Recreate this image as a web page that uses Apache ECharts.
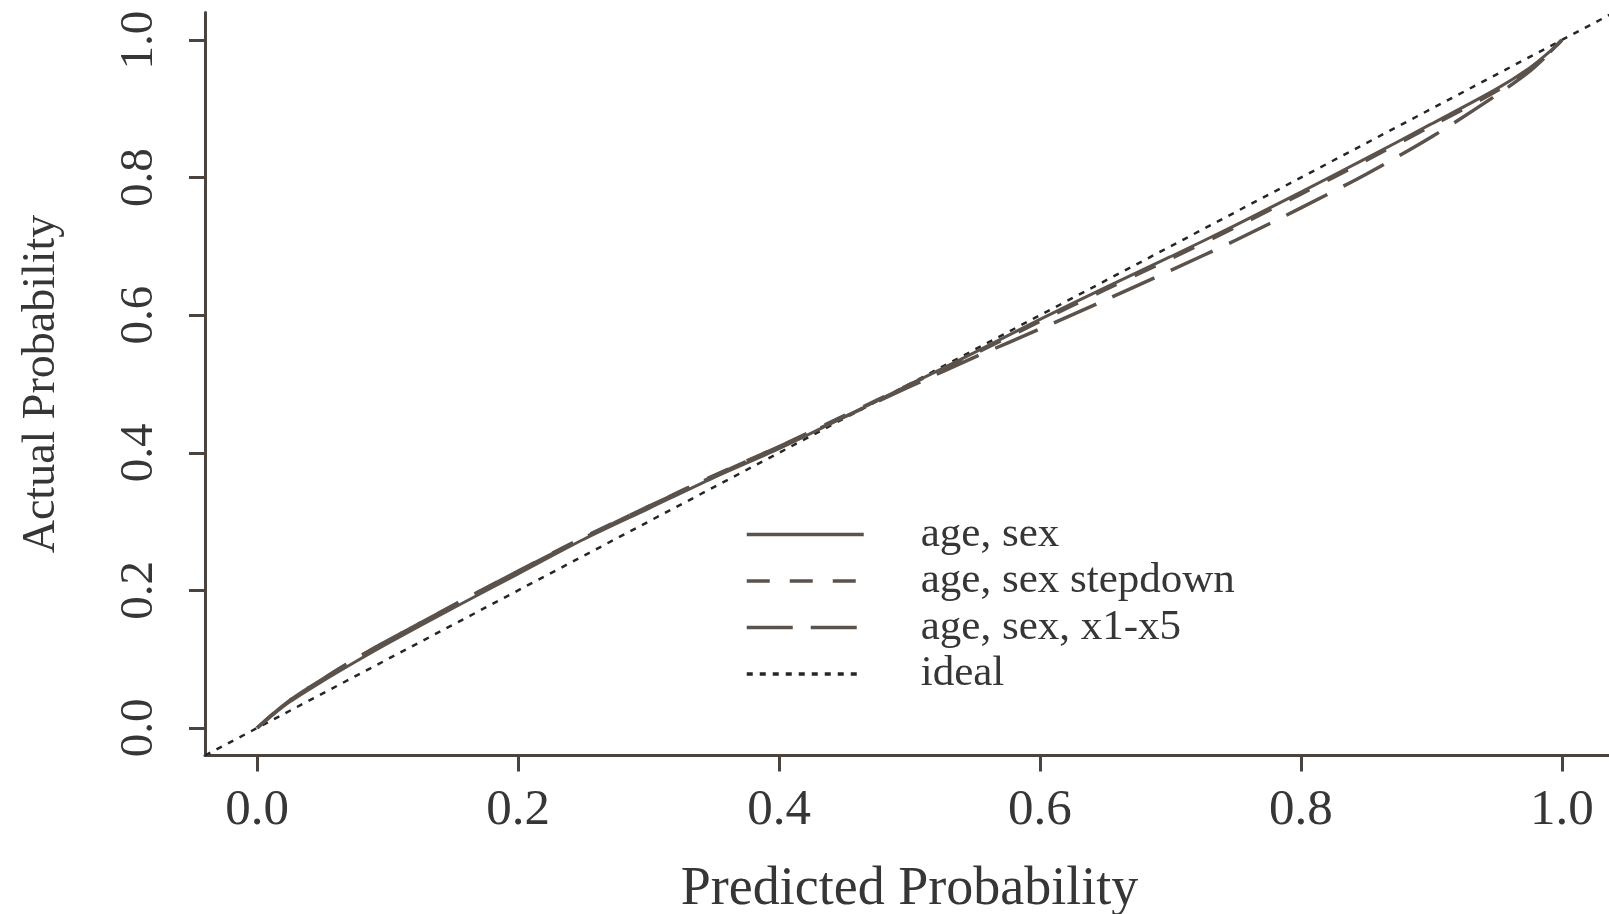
<!DOCTYPE html>
<html>
<head>
<meta charset="utf-8">
<script src="https://cdn.jsdelivr.net/npm/echarts@6/dist/echarts.min.js"></script>
<style>
html,body{margin:0;padding:0;background:#ffffff;}
#chart{width:1609px;height:914px;}
</style>
</head>
<body>
<div id="chart"></div>
<script>
// Predicted probability grid (x) shared by the three calibration curves
var predicted = [0, 0.01, 0.025, 0.05, 0.075, 0.1, 0.15, 0.2, 0.25, 0.3, 0.35, 0.4, 0.45, 0.5, 0.55, 0.6, 0.65, 0.7, 0.75, 0.8, 0.85, 0.9, 0.95, 0.975, 0.99, 1.0];
// Actual probability, "age, sex"
var ageSex = [0, 0.016, 0.038, 0.068, 0.096, 0.123, 0.174, 0.224, 0.274, 0.319, 0.364, 0.406, 0.452, 0.499, 0.546, 0.594, 0.640, 0.685, 0.731, 0.779, 0.828, 0.878, 0.929, 0.959, 0.982, 1.0];
// Actual probability, "age, sex stepdown"
var ageSexStepdown = [0, 0.017, 0.040, 0.071, 0.100, 0.127, 0.178, 0.228, 0.277, 0.322, 0.367, 0.409, 0.454, 0.499, 0.544, 0.591, 0.637, 0.682, 0.728, 0.776, 0.825, 0.875, 0.926, 0.957, 0.981, 1.0];
// Actual probability, "age, sex, x1-x5"
var ageSexX15 = [0, 0.017, 0.040, 0.071, 0.100, 0.127, 0.178, 0.228, 0.276, 0.322, 0.366, 0.409, 0.452, 0.496, 0.539, 0.580, 0.622, 0.665, 0.709, 0.756, 0.805, 0.859, 0.920, 0.954, 0.980, 1.0];
// Ideal line end points
var idealX = [-0.04, 1.04];
var idealY = [-0.04, 1.04];
// Tick labels
var tickValues = [0, 0.2, 0.4, 0.6, 0.8, 1.0];
var seriesNames = ["age, sex", "age, sex stepdown", "age, sex, x1-x5", "ideal"];

function pairs(xs, ys) {
  var out = [];
  for (var i = 0; i < xs.length; i++) out.push([xs[i], ys[i]]);
  return out;
}

var FONT = "'Liberation Serif', 'Times New Roman', serif";
var AXIS_COLOR = "#4b433e";
var LINE_COLOR = "#5b524c";
var TEXT_COLOR = "#363636";

var chart = echarts.init(document.getElementById('chart'), null, {renderer: 'canvas'});
chart.setOption({
  backgroundColor: '#ffffff',
  animation: false,
  grid: {left: 205, top: 12.5, width: 1409, height: 743, containLabel: false, outerBoundsMode: 'none'},
  legend: {
    orient: 'vertical',
    left: 740,
    top: 508,
    itemWidth: 117,
    itemHeight: 20,
    itemGap: 3.5,
    data: seriesNames,
    itemStyle: {opacity: 0},
    lineStyle: {width: 3.5},
    textStyle: {fontFamily: FONT, fontSize: 43, color: TEXT_COLOR, lineHeight: 40, padding: [0, 0, 0, 52]}
  },
  xAxis: {
    type: 'value',
    min: -0.04,
    max: 1.04,
    name: 'Predicted Probability',
    nameLocation: 'middle',
    nameGap: 107,
    nameTextStyle: {fontFamily: FONT, fontSize: 54, color: TEXT_COLOR},
    axisLine: {show: true, onZero: false, lineStyle: {color: AXIS_COLOR, width: 3}},
    axisTick: {show: true, length: 16, customValues: tickValues, lineStyle: {color: AXIS_COLOR, width: 3}},
    axisLabel: {customValues: tickValues, margin: 30, fontFamily: FONT, fontSize: 51, color: TEXT_COLOR,
      formatter: function (v) { return v.toFixed(1); }},
    splitLine: {show: false}
  },
  yAxis: {
    type: 'value',
    min: -0.04,
    max: 1.04,
    name: 'Actual Probability',
    nameLocation: 'middle',
    nameGap: 140,
    nameTextStyle: {fontFamily: FONT, fontSize: 46, color: TEXT_COLOR},
    axisLine: {show: true, onZero: false, lineStyle: {color: AXIS_COLOR, width: 3}},
    axisTick: {show: true, length: 16, customValues: tickValues, lineStyle: {color: AXIS_COLOR, width: 3}},
    axisLabel: {customValues: tickValues, rotate: 90, margin: 42, fontFamily: FONT, fontSize: 47, color: TEXT_COLOR,
      formatter: function (v) { return v.toFixed(1); }},
    splitLine: {show: false}
  },
  series: [
    {name: seriesNames[0], type: 'line', symbol: 'none', smooth: 0.3, data: pairs(predicted, ageSex),
      lineStyle: {color: LINE_COLOR, width: 3, type: 'solid'}, itemStyle: {color: LINE_COLOR}, z: 4},
    {name: seriesNames[1], type: 'line', symbol: 'none', smooth: 0.3, data: pairs(predicted, ageSexStepdown),
      lineStyle: {color: LINE_COLOR, width: 3.5, type: [23, 20]}, itemStyle: {color: LINE_COLOR}, z: 3},
    {name: seriesNames[2], type: 'line', symbol: 'none', smooth: 0.3, data: pairs(predicted, ageSexX15),
      lineStyle: {color: LINE_COLOR, width: 3.5, type: [46, 18]}, itemStyle: {color: LINE_COLOR}, z: 3},
    {name: seriesNames[3], type: 'line', symbol: 'none', data: pairs(idealX, idealY),
      lineStyle: {color: '#262626', width: 2.5, type: [6, 7]}, itemStyle: {color: '#262626'}, z: 2}
  ]
});
</script>
</body>
</html>
